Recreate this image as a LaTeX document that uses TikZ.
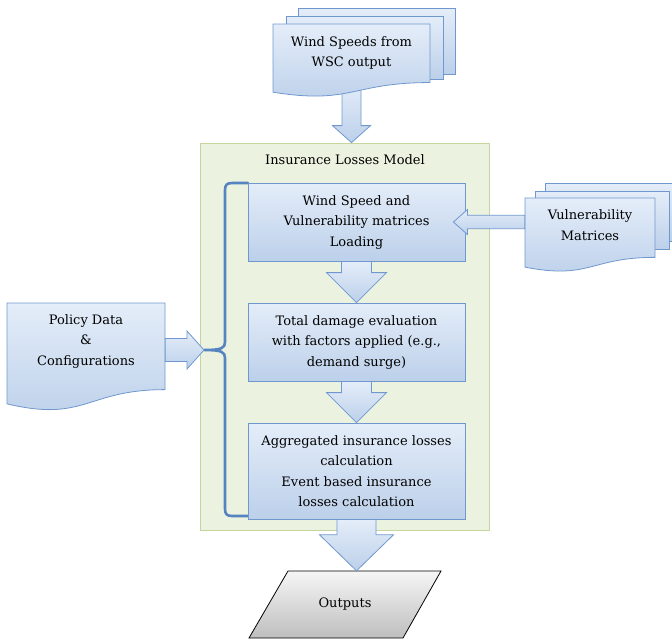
\documentclass[tikz,border=0pt]{standalone}
\usepackage{fontspec}
\setmainfont{DejaVu Serif}
\usetikzlibrary{calc}
\definecolor{bluetop}{RGB}{228,237,249}
\definecolor{bluebot}{RGB}{188,208,234}
\definecolor{blueline}{RGB}{112,152,206}
\definecolor{greenfill}{RGB}{236,242,224}
\definecolor{greenline}{RGB}{196,214,158}
\definecolor{bracecol}{RGB}{86,132,192}
\definecolor{graytop}{RGB}{246,246,246}
\definecolor{graybot}{RGB}{190,190,190}
\pgfdeclarelayer{bg}
\pgfdeclarelayer{mid}
\pgfdeclarelayer{fg}
\pgfsetlayers{bg,mid,main,fg}
\tikzset{
  bluefill/.style={top color=bluetop, bottom color=bluebot, draw=blueline, line width=0.8pt},
  txt/.style={align=center, font=\fontsize{13}{20.5}\selectfont, inner sep=0pt},
  stepbox/.style={bluefill, rectangle, minimum width=217pt, txt},
  docbox/.style={rectangle, txt},
  bracestyle/.style={draw=bracecol, line width=2.6pt, line join=round, line cap=round},
}
\newcommand\docshape[5]{%
  \path[#1] (#2,#3) -- ({#2+#4},#3) -- ({#2+#4},{#3+0.802*#5}) .. controls ({#2+0.5*#4},{#3+0.802*#5}) and ({#2+0.5*#4},{#3+1.107*#5}) .. (#2,{#3+0.934*#5}) -- cycle;}
% vertical block arrow pointing down: start, tip, shaft half, head half, head length
\newcommand\varrow[5]{%
  \path[bluefill] let \p1=(#1), \p2=(#2) in
   (\x1-#3pt,\y1) -- (\x1-#3pt,\y2+#5pt) -- (\x1-#4pt,\y2+#5pt) -- (\x1,\y2) -- (\x1+#4pt,\y2+#5pt) -- (\x1+#3pt,\y2+#5pt) -- (\x1+#3pt,\y1) -- cycle;}
% horizontal block arrow pointing right
\newcommand\rarrow[5]{%
  \path[bluefill] let \p1=(#1), \p2=(#2) in
   (\x1,\y2+#3pt) -- (\x2-#5pt,\y2+#3pt) -- (\x2-#5pt,\y2+#4pt) -- (\x2,\y2) -- (\x2-#5pt,\y2-#4pt) -- (\x2-#5pt,\y2-#3pt) -- (\x1,\y2-#3pt) -- cycle;}
% horizontal block arrow pointing left
\newcommand\larrow[5]{%
  \path[bluefill] let \p1=(#1), \p2=(#2) in
   (\x1,\y2+#3pt) -- (\x2+#5pt,\y2+#3pt) -- (\x2+#5pt,\y2+#4pt) -- (\x2,\y2) -- (\x2+#5pt,\y2-#4pt) -- (\x2+#5pt,\y2-#3pt) -- (\x1,\y2-#3pt) -- cycle;}
\begin{document}
\begin{tikzpicture}[x=1pt,y=-1pt]
\useasboundingbox (0,0) rectangle (672,641);
\clip (0,0) rectangle (672,641);
% green model box
\begin{pgfonlayer}{bg}
\node[draw=greenline, fill=greenfill, line width=0.8pt, minimum width=289pt, minimum height=387pt, inner sep=0pt] (green) at (344.5,336.5) {};
\draw[bracestyle] (248,183) -- (232,183) .. controls (227,183) and (225,185) .. (225,190)
  -- (225,342) .. controls (225,348) and (222,350) .. (204,350)
  .. controls (222,350) and (225,352) .. (225,358)
  -- (225,509) .. controls (225,514) and (227,516) .. (232,516) -- (248,516);
\coordinate (brtip) at (204,350);
\end{pgfonlayer}
\node[txt] (title) at (345,160) {Insurance Losses Model};
% steps
\node[stepbox, minimum height=78pt] (b1) at (356.5,222) {Wind Speed and\\Vulnerability matrices\\Loading};
\node[stepbox, minimum height=78pt] (b2) at (356.5,342) {Total damage evaluation\\with factors applied (e.g.,\\demand surge)};
\node[stepbox, minimum height=96pt] (b3) at (356.5,471) {Aggregated insurance losses\\calculation\\Event based insurance\\losses calculation};
% wind speeds multidocument
\path[bluefill] (298,8) rectangle (455,74);
\path[bluefill] (286,16) rectangle (443,79);
\docshape{bluefill}{273}{24}{157}{73}
\node[docbox, minimum width=157pt, minimum height=58pt] (wdoc) at (351.5,53) {Wind Speeds from\\WSC output};
% vulnerability multidocument
\path[bluefill] (545,183) rectangle (690,241);
\path[bluefill] (535,191) rectangle (669,249);
\docshape{bluefill}{525}{198}{130}{74}
\node[docbox, minimum width=130pt, minimum height=54pt] (vdoc) at (590,225) {Vulnerability\\Matrices};
% policy document
\docshape{bluefill}{7}{303}{158}{108}
\node[docbox, minimum width=158pt, minimum height=60pt] (pdoc) at (86,341) {Policy Data\\\&\\Configurations};
% outputs
\path[top color=graytop, bottom color=graybot, draw=black, line width=0.8pt] (288,571) -- (441,571) -- (403,638) -- (249,638) -- cycle;
\node[txt, minimum width=150pt, minimum height=67pt] (out) at (345,604.5) {Outputs};
% arrows
\begin{pgfonlayer}{mid}
\varrow{wdoc.south}{wdoc.south |- green.north}{9.5}{19}{17}
\varrow{b1.south}{b1.south |- b2.north}{15}{30}{30}
\varrow{b2.south}{b2.south |- b3.north}{15}{30}{30}
\end{pgfonlayer}
\begin{pgfonlayer}{fg}
\varrow{b3.south}{b3.south |- out.north}{19.5}{37}{36}
\rarrow{pdoc.east}{brtip}{11.5}{19}{17}
\larrow{vdoc.west}{$(b1.east)+(-12,0)$}{6.7}{12.5}{14}
\end{pgfonlayer}
\end{tikzpicture}
\end{document}
